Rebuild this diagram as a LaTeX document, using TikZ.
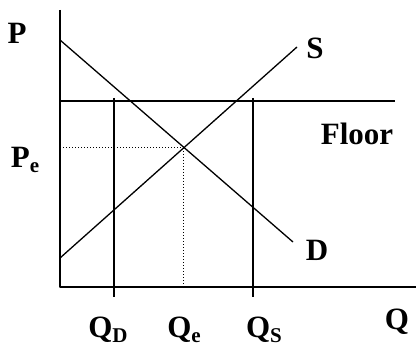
\documentclass[tikz,border=0pt]{standalone}
\usepackage{fontspec}
\setmainfont{Liberation Serif}
\newcommand{\lowsub}[1]{\raisebox{-0.3ex}{\fontsize{21}{21}\selectfont #1}}
\begin{document}
\begin{tikzpicture}[x=1pt,y=-1pt,line join=round,font=\fontsize{31}{31}\selectfont\bfseries]
\tikzset{curve/.style={line width=1.3pt},guide/.style={line width=1pt,dotted}}
\useasboundingbox (0,0) rectangle (417,347);
% axes
\draw[line width=2pt] (60,10)--(60,287)--(416,287);
% floor and the two quantities
\draw[curve] (60,101)--(395,101);
\draw[curve] (114,98)--(114,297);
\draw[curve] (253,98)--(253,297);
% demand and supply
\draw[curve] (60,40)--(293,242);
\draw[curve] (60,258)--(297,47);
\draw[guide] (60,148)-|(183,287);
% labels
\node (p) at (17,33) {P};
\node (pe) at (25,160) {P\lowsub{e}};
\node (s) at (315,48) {S};
\node (d) at (317,250) {D};
\node (floor) at (357,134) {Floor};
\node (q) at (397,322) {Q};
\node (qd) at (108,330) {Q\lowsub{D}};
\node (qe) at (184,330) {Q\lowsub{e}};
\node (qs) at (264,330) {Q\lowsub{S}};
\end{tikzpicture}
\end{document}
